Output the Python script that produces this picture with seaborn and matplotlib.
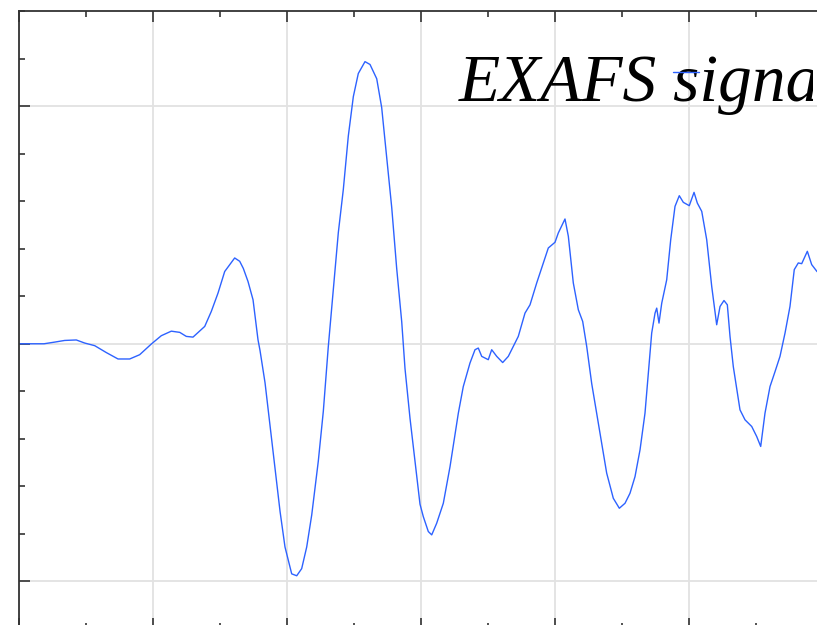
import numpy as np
import pandas as pd
import matplotlib
matplotlib.use("Agg")
import matplotlib.pyplot as plt
from matplotlib.lines import Line2D
from matplotlib.transforms import Bbox, TransformedBbox
from matplotlib.ticker import MultipleLocator, NullFormatter
import seaborn as sns

# ---- data (k, chi) ----
k = [0.00, 0.373, 0.533, 0.682, 0.855, 0.981, 1.130, 1.303, 1.478, 1.652,
     1.801, 1.975, 2.124, 2.273, 2.399, 2.497, 2.597, 2.772, 2.870, 2.970,
     3.070, 3.219, 3.294, 3.348, 3.418, 3.493, 3.567, 3.597, 3.672, 3.746,
     3.821, 3.896, 3.970, 4.070, 4.145, 4.219, 4.294, 4.369, 4.467, 4.542,
     4.616, 4.691, 4.766, 4.840, 4.915, 4.990, 5.064, 5.164, 5.239, 5.339,
     5.413, 5.488, 5.563, 5.637, 5.712, 5.761, 5.836, 5.910, 5.985, 6.034,
     6.109, 6.160, 6.234, 6.333, 6.433, 6.557, 6.631, 6.731, 6.806, 6.855,
     6.906, 7.004, 7.055, 7.130, 7.219, 7.303, 7.452, 7.552, 7.627, 7.727,
     7.825, 7.900, 8.000, 8.049, 8.149, 8.199, 8.273, 8.348, 8.413, 8.473,
     8.548, 8.622, 8.697, 8.771, 8.870, 8.960, 9.045, 9.119, 9.194, 9.269,
     9.343, 9.393, 9.443, 9.493, 9.518, 9.552, 9.593, 9.667, 9.727, 9.791,
     9.855, 9.915, 10.004, 10.075, 10.124, 10.190, 10.264, 10.339, 10.413, 10.463,
     10.522, 10.572, 10.612, 10.661, 10.761, 10.836, 10.936, 11.010, 11.070, 11.134,
     11.209, 11.284, 11.358, 11.433, 11.507, 11.571, 11.631, 11.682, 11.766, 11.831,
     11.910, 12.000]
chi = [0.000, 0.000, 0.007, 0.014, 0.016, 0.003, -0.008, -0.037, -0.064, -0.064,
       -0.046, -0.001, 0.034, 0.053, 0.048, 0.031, 0.028, 0.073, 0.136, 0.213,
       0.304, 0.361, 0.347, 0.317, 0.262, 0.185, 0.017, -0.028, -0.164, -0.344,
       -0.525, -0.705, -0.855, -0.968, -0.976, -0.946, -0.855, -0.720, -0.494, -0.284,
       -0.013, 0.227, 0.468, 0.648, 0.874, 1.040, 1.137, 1.187, 1.175, 1.115,
       0.994, 0.784, 0.573, 0.317, 0.093, -0.104, -0.314, -0.495, -0.675, -0.727,
       -0.790, -0.804, -0.755, -0.671, -0.517, -0.292, -0.180, -0.081, -0.025, -0.018,
       -0.053, -0.067, -0.025, -0.053, -0.079, -0.053, 0.031, 0.129, 0.164, 0.256,
       0.340, 0.403, 0.427, 0.466, 0.525, 0.452, 0.256, 0.143, 0.094, -0.011,
       -0.168, -0.292, -0.418, -0.544, -0.650, -0.692, -0.671, -0.629, -0.559, -0.446,
       -0.292, -0.123, 0.045, 0.129, 0.150, 0.087, 0.171, 0.269, 0.438, 0.578,
       0.623, 0.595, 0.581, 0.637, 0.592, 0.557, 0.438, 0.241, 0.080, 0.157,
       0.182, 0.164, 0.031, -0.096, -0.278, -0.320, -0.348, -0.390, -0.432, -0.292,
       -0.180, -0.117, -0.053, 0.045, 0.157, 0.312, 0.340, 0.337, 0.389, 0.333,
       0.304, 0.290]
series_label = "EXAFS signal"

df = pd.DataFrame({"k": k, "chi": chi})

sns.set_style("ticks")
fig = plt.figure(figsize=(8.17, 6.25), dpi=100)
ax = fig.add_axes([0.02326, -0.0064, 0.9841, 0.9888])

line_color = "#2d62ff"
sns.lineplot(data=df, x="k", y="chi", ax=ax, sort=False, color=line_color,
             linewidth=1.0, estimator=None, legend=False)

ax.set_xlim(0, 12)
ax.set_ylim(-1.2, 1.4)
ax.xaxis.set_major_locator(MultipleLocator(2))
ax.xaxis.set_minor_locator(MultipleLocator(1))
ax.yaxis.set_major_locator(MultipleLocator(1))
ax.yaxis.set_minor_locator(MultipleLocator(0.2))
ax.xaxis.set_major_formatter(NullFormatter())
ax.yaxis.set_major_formatter(NullFormatter())
ax.set_xlabel("")
ax.set_ylabel("")

ax.grid(True, which="major", color="#e2e2e2", linewidth=1.3)
ax.set_axisbelow(True)
ax.tick_params(which="both", direction="in", top=True, bottom=True, left=True,
               right=False, color="#333333", width=1.2)
ax.tick_params(which="major", length=8)
ax.tick_params(which="minor", length=4)
for side in ["left", "top", "bottom"]:
    ax.spines[side].set_color("#333333")
    ax.spines[side].set_linewidth(1.3)
ax.spines["right"].set_visible(False)

# legend-like label (as in the reference, oversized and clipped at the right)
txt = fig.text(459 / 817, 1 - 101 / 625, series_label,
               family=["Liberation Serif", "DejaVu Serif"],
               style="italic", fontsize=48.5, va="baseline", ha="left",
               color="black", zorder=5)
clip_box = TransformedBbox(Bbox([[0, 0], [813 / 817, 1]]), fig.transFigure)
txt.set_clip_box(clip_box)
txt.set_clip_on(True)
fig.add_artist(Line2D([673 / 817, 699 / 817], [1 - 72 / 625, 1 - 72 / 625],
                      transform=fig.transFigure, color=line_color,
                      linewidth=1.0, zorder=10))

fig.savefig("out.png", dpi=100)
